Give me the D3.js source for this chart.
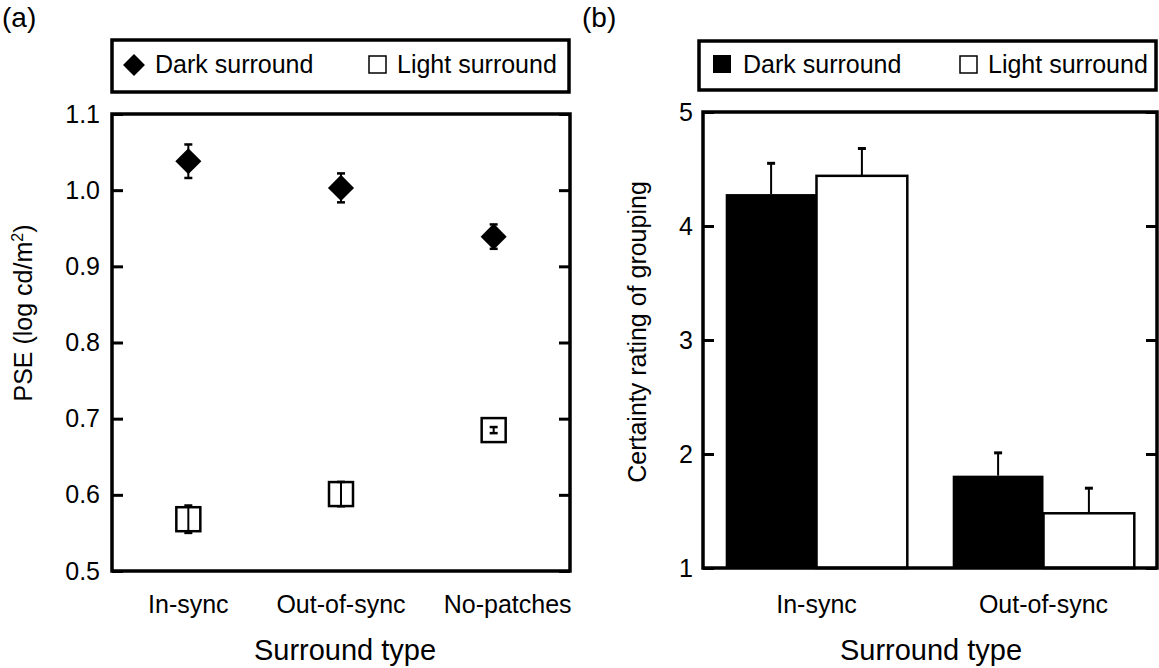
<!DOCTYPE html>
<html><head><meta charset="utf-8">
<script src="https://cdn.jsdelivr.net/npm/d3@7"></script>
<style>
body{margin:0;background:#fff;}
svg{font-family:"Liberation Sans",Arial,Helvetica,sans-serif;}
</style></head>
<body><svg id="c" width="1159" height="668"></svg>
<script>
// ---- Data ----
const catsA = ["In-sync", "Out-of-sync", "No-patches"];
const darkPSE = [1.038, 1.003, 0.939];
const darkPSEerr = [0.022, 0.019, 0.016];
const lightPSE = [0.568, 0.601, 0.685];
const lightPSEerr = [0.018, 0.016, 0.004];
const ticksA = [0.5, 0.6, 0.7, 0.8, 0.9, 1.0, 1.1];

const catsB = ["In-sync", "Out-of-sync"];
const darkRating = [4.28, 1.81];
const darkRatingErr = [0.27, 0.20];
const lightRating = [4.44, 1.48];
const lightRatingErr = [0.24, 0.22];
const ticksB = [1, 2, 3, 4, 5];
const seriesNames = ["Dark surround", "Light surround"];

const svg = d3.select("#c");
const FS = 25;

// ---------- Panel (a) ----------
const A = {l:112, r:570, t:114, b:571};
const yA = d3.scaleLinear().domain([0.5, 1.1]).range([A.b, A.t]);
const xA = d3.scalePoint().domain(catsA).range([A.l, A.r]).padding(0.5);

svg.append("text").attr("x", 2).attr("y", 27).attr("font-size", 28).text("(a)");

// legend a
const legA = svg.append("g");
legA.append("rect").attr("x", 112).attr("y", 40).attr("width", 457).attr("height", 52)
  .attr("fill", "#fff").attr("stroke", "#000").attr("stroke-width", 3.5);
legA.append("path").attr("d", d3.symbol(d3.symbolSquare, 240)())
  .attr("transform", "translate(134,65) rotate(45)").attr("fill", "#000");
legA.append("text").attr("x", 155).attr("y", 73).attr("font-size", FS).text(seriesNames[0]);
legA.append("rect").attr("x", 369).attr("y", 56).attr("width", 17).attr("height", 17)
  .attr("fill", "#fff").attr("stroke", "#000").attr("stroke-width", 1.5);
legA.append("text").attr("x", 397).attr("y", 73).attr("font-size", FS).text(seriesNames[1]);

const gA = svg.append("g");
const axLA = gA.append("g").attr("transform", `translate(${A.l},0)`)
  .call(d3.axisLeft(yA).tickValues(ticksA).tickFormat(d3.format(".1f")).tickSize(-11).tickPadding(12));
const axRA = gA.append("g").attr("transform", `translate(${A.r},0)`)
  .call(d3.axisRight(yA).tickValues(ticksA).tickFormat("").tickSize(-11));
[axLA, axRA].forEach(g => {
  g.select(".domain").remove();
  g.selectAll(".tick line").attr("stroke-width", 3);
  g.selectAll("text").attr("font-size", FS).attr("fill", "#000").attr("font-family", "Liberation Sans, Arial, sans-serif");
});
gA.append("rect").attr("x", A.l).attr("y", A.t).attr("width", A.r - A.l).attr("height", A.b - A.t)
  .attr("fill", "none").attr("stroke", "#000").attr("stroke-width", 3.5);

// category labels a
gA.selectAll(".catA").data(catsA).enter().append("text")
  .attr("x", (d, i) => xA(d) + (i === 2 ? 14 : 0)).attr("y", 613)
  .attr("text-anchor", "middle").attr("font-size", FS).text(d => d);
gA.append("text").attr("x", 345).attr("y", 660).attr("text-anchor", "middle")
  .attr("font-size", 29).text("Surround type");
const ylabA = gA.append("text").attr("transform", "translate(32,313) rotate(-90)")
  .attr("text-anchor", "middle").attr("font-size", FS);
ylabA.append("tspan").text("PSE (log cd/m");
ylabA.append("tspan").attr("font-size", 16).attr("dy", -9).text("2");
ylabA.append("tspan").attr("dy", 9).text(")");

// light squares
const sq = 24;
gA.selectAll(".lsq").data(lightPSE).enter().append("rect")
  .attr("x", (d, i) => xA(catsA[i]) - sq/2).attr("y", d => yA(d) - sq/2)
  .attr("width", sq).attr("height", sq).attr("fill", "#fff").attr("stroke", "#000").attr("stroke-width", 2.5);
// dark diamonds
gA.selectAll(".dd").data(darkPSE).enter().append("path")
  .attr("d", d3.symbol(d3.symbolSquare, 340)())
  .attr("transform", (d, i) => `translate(${xA(catsA[i])},${yA(d)}) rotate(45)`)
  .attr("fill", "#000");
// error bars a
function errBars(g, xs, vals, errs) {
  vals.forEach((v, i) => {
    const x = xs[i];
    const y1 = yA(v + errs[i]), y0 = yA(v - errs[i]);
    g.append("line").attr("x1", x).attr("x2", x).attr("y1", y1).attr("y2", y0)
      .attr("stroke", "#000").attr("stroke-width", 2);
    [y1, y0].forEach(yy => g.append("line").attr("x1", x - 4).attr("x2", x + 4)
      .attr("y1", yy).attr("y2", yy).attr("stroke", "#000").attr("stroke-width", 2.5));
  });
}
errBars(gA, catsA.map(c => xA(c)), darkPSE, darkPSEerr);
errBars(gA, catsA.map(c => xA(c)), lightPSE, lightPSEerr);

// ---------- Panel (b) ----------
const B = {l:703, r:1157, t:112, b:568};
const yB = d3.scaleLinear().domain([1, 5]).range([B.b, B.t]);
const xB = d3.scaleBand().domain(catsB).range([B.l, B.r]).paddingInner(0.2).paddingOuter(0.1);
const xSub = d3.scaleBand().domain([0, 1]).range([0, xB.bandwidth()]);

svg.append("text").attr("x", 582).attr("y", 27).attr("font-size", 28).text("(b)");

const legB = svg.append("g");
legB.append("rect").attr("x", 699).attr("y", 41).attr("width", 457).attr("height", 49)
  .attr("fill", "#fff").attr("stroke", "#000").attr("stroke-width", 3.5);
legB.append("rect").attr("x", 713).attr("y", 55).attr("width", 18).attr("height", 18).attr("fill", "#000");
legB.append("text").attr("x", 743).attr("y", 73).attr("font-size", FS).text(seriesNames[0]);
legB.append("rect").attr("x", 960).attr("y", 56).attr("width", 17).attr("height", 17)
  .attr("fill", "#fff").attr("stroke", "#000").attr("stroke-width", 1.5);
legB.append("text").attr("x", 988).attr("y", 73).attr("font-size", FS).text(seriesNames[1]);

const gB = svg.append("g");
// bars
const barData = [];
catsB.forEach((c, i) => {
  barData.push({c, s:0, v:darkRating[i], e:darkRatingErr[i]});
  barData.push({c, s:1, v:lightRating[i], e:lightRatingErr[i]});
});
gB.selectAll(".bar").data(barData).enter().append("rect")
  .attr("x", d => xB(d.c) + xSub(d.s)).attr("y", d => yB(d.v))
  .attr("width", xSub.bandwidth()).attr("height", d => yB(1) - yB(d.v))
  .attr("fill", d => d.s === 0 ? "#000" : "#fff")
  .attr("stroke", "#000").attr("stroke-width", d => d.s === 0 ? 0 : 2.5);
barData.forEach(d => {
  const x = xB(d.c) + xSub(d.s) + xSub.bandwidth()/2;
  gB.append("line").attr("x1", x).attr("x2", x).attr("y1", yB(d.v)).attr("y2", yB(d.v + d.e))
    .attr("stroke", "#000").attr("stroke-width", 2);
  gB.append("line").attr("x1", x - 4).attr("x2", x + 4).attr("y1", yB(d.v + d.e)).attr("y2", yB(d.v + d.e))
    .attr("stroke", "#000").attr("stroke-width", 3);
});

const axLB = gB.append("g").attr("transform", `translate(${B.l},0)`)
  .call(d3.axisLeft(yB).tickValues(ticksB).tickFormat(d3.format("d")).tickSize(-11).tickPadding(10));
const axRB = gB.append("g").attr("transform", `translate(${B.r},0)`)
  .call(d3.axisRight(yB).tickValues(ticksB).tickFormat("").tickSize(-11));
[axLB, axRB].forEach(g => {
  g.select(".domain").remove();
  g.selectAll(".tick line").attr("stroke-width", 3);
  g.selectAll("text").attr("font-size", FS).attr("fill", "#000").attr("font-family", "Liberation Sans, Arial, sans-serif");
});
gB.append("rect").attr("x", B.l).attr("y", B.t).attr("width", B.r - B.l).attr("height", B.b - B.t)
  .attr("fill", "none").attr("stroke", "#000").attr("stroke-width", 3.5);

gB.selectAll(".catB").data(catsB).enter().append("text")
  .attr("x", d => xB(d) + xB.bandwidth()/2).attr("y", 613)
  .attr("text-anchor", "middle").attr("font-size", FS).text(d => d);
gB.append("text").attr("x", 931).attr("y", 660).attr("text-anchor", "middle")
  .attr("font-size", 29).text("Surround type");
gB.append("text").attr("transform", "translate(646,332) rotate(-90)")
  .attr("text-anchor", "middle").attr("font-size", FS).text("Certainty rating of grouping");
</script></body></html>
